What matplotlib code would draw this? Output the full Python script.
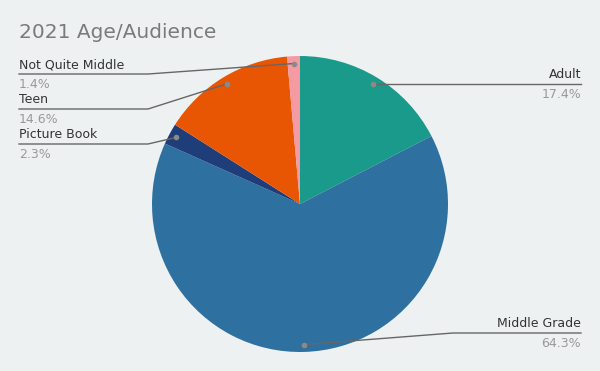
import matplotlib.pyplot as plt
import numpy as np

labels = ['Adult', 'Middle Grade', 'Picture Book', 'Teen', 'Not Quite Middle']
shares = [17.4, 64.3, 2.3, 14.6, 1.4]
colors = ['#1a9a8a', '#2e71a0', '#1f3d78', '#e85604', '#f59aa2']

bg = '#eef1f2'
H = 371

fig = plt.figure(figsize=(6, 3.71), dpi=100, facecolor=bg)
ax = fig.add_axes([0, 0, 1, 1])
ax.set_facecolor(bg)
ax.set_xlim(0, 600)
ax.set_ylim(0, H)
ax.set_aspect('equal')
ax.axis('off')

cx, cy, r = 300, H - 204, 148
ax.pie(shares, colors=colors, startangle=90, counterclock=False,
       center=(cx, cy), radius=r, frame=True,
       wedgeprops=dict(linewidth=0))
ax.set_xlim(0, 600)
ax.set_ylim(0, H)
ax.axis('off')

# label layout: side, y of the leader line (px from top), elbow x
layout = {
    'Adult': ('right', 84, None),
    'Middle Grade': ('right', 333, 453),
    'Picture Book': ('left', 144, 148),
    'Teen': ('left', 109, 148),
    'Not Quite Middle': ('left', 74, 148),
}

cum = 0
for lab, val in zip(labels, shares):
    mid = 90 - (cum + val / 2) * 3.6
    cum += val
    a = np.deg2rad(mid)
    px, py = cx + 0.95 * r * np.cos(a), cy + 0.95 * r * np.sin(a)
    side, ly, ex = layout[lab]
    ly = H - ly
    if side == 'right':
        xe = 581
        pts_x = [px, ex if ex else px, xe]
        pts_y = [py, ly, ly]
        ha, tx = 'right', xe
    else:
        xe = 19
        pts_x = [px, ex, xe]
        pts_y = [py, ly, ly]
        ha, tx = 'left', xe
    ax.plot(pts_x, pts_y, color='#666666', linewidth=1)
    ax.plot(px, py, 'o', color='#8a8a8a', markersize=3)
    ax.text(tx, ly + 3, lab, ha=ha, va='bottom', fontsize=9, color='#333333')
    ax.text(tx, ly - 4, f'{val}%', ha=ha, va='top', fontsize=9, color='#999999')

ax.text(19, H - 33, '2021 Age/Audience', ha='left', va='center',
        fontsize=14.5, color='#7a7a7a')

plt.savefig('out.png', dpi=100, facecolor=bg)
